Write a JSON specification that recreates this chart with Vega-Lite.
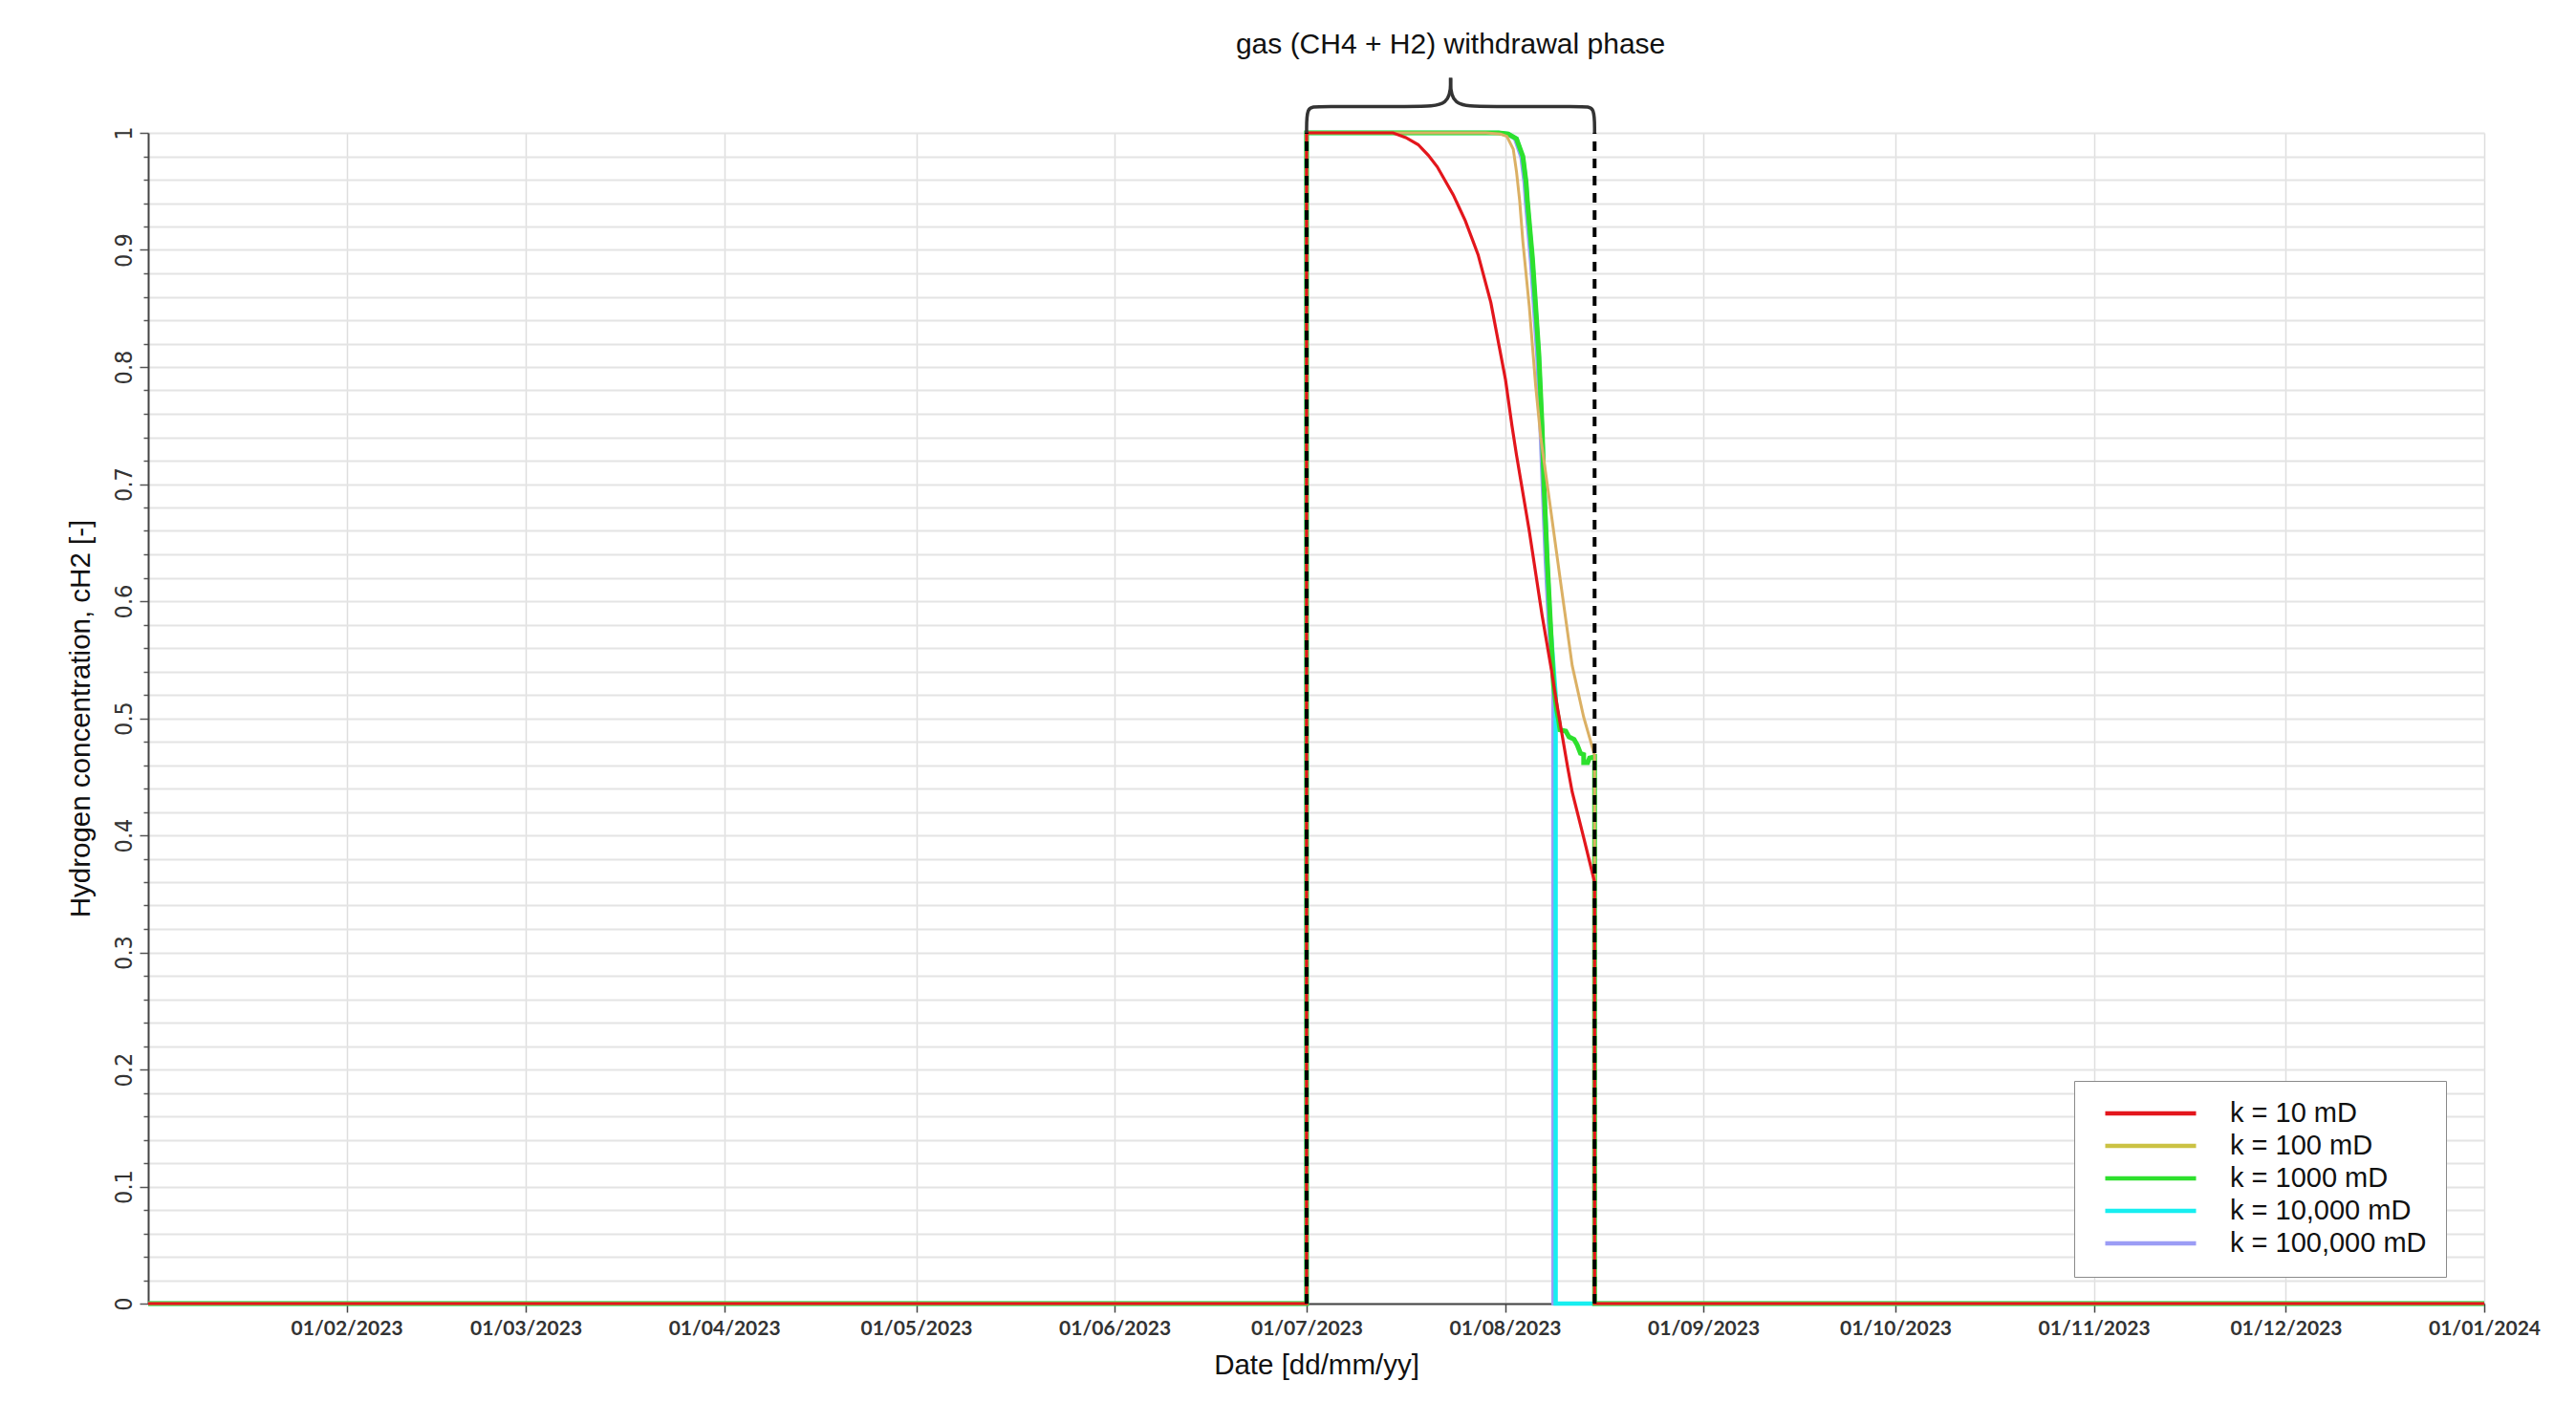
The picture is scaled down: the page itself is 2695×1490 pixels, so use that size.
{
  "$schema": "https://vega.github.io/schema/vega-lite/v6.json",
  "autosize": "none",
  "width": 2444,
  "height": 1225,
  "padding": {"left": 155, "top": 139, "right": 96, "bottom": 126},
  "background": "white",
  "config": {
    "view": {"stroke": null},
    "legend": {
      "symbolType": "stroke",
      "symbolSize": 9025,
      "symbolStrokeWidth": 4.5,
      "clipHeight": 28,
      "labelFontSize": 29,
      "labelFont": "Liberation Sans, Arial, sans-serif",
      "labelColor": "#111111",
      "labelOffset": 33,
      "symbolOffset": 10,
      "rowPadding": 5,
      "padding": 20,
      "strokeColor": "#8a8a8a",
      "fillColor": "#ffffff",
      "labelLimit": 500
    }
  },
  "datasets": {
    "series": [
      {"k": "k = 10 mD", "i": 0, "date": "2023-01-01T00:00:00Z", "y": 0},
      {"k": "k = 10 mD", "i": 1, "date": "2023-07-01T00:00:00Z", "y": 0},
      {"k": "k = 10 mD", "i": 2, "date": "2023-07-01T00:00:00Z", "y": 1},
      {"k": "k = 10 mD", "i": 3, "date": "2023-07-14T12:00:00Z", "y": 1},
      {"k": "k = 10 mD", "i": 4, "date": "2023-07-16T12:00:00Z", "y": 0.996},
      {"k": "k = 10 mD", "i": 5, "date": "2023-07-18T10:00:00Z", "y": 0.99},
      {"k": "k = 10 mD", "i": 6, "date": "2023-07-20T00:00:00Z", "y": 0.981},
      {"k": "k = 10 mD", "i": 7, "date": "2023-07-21T10:00:00Z", "y": 0.971},
      {"k": "k = 10 mD", "i": 8, "date": "2023-07-23T22:00:00Z", "y": 0.947},
      {"k": "k = 10 mD", "i": 9, "date": "2023-07-25T19:00:00Z", "y": 0.925},
      {"k": "k = 10 mD", "i": 10, "date": "2023-07-27T19:00:00Z", "y": 0.896},
      {"k": "k = 10 mD", "i": 11, "date": "2023-07-29T19:00:00Z", "y": 0.855},
      {"k": "k = 10 mD", "i": 12, "date": "2023-08-01T02:00:00Z", "y": 0.789},
      {"k": "k = 10 mD", "i": 13, "date": "2023-08-02T02:00:00Z", "y": 0.75},
      {"k": "k = 10 mD", "i": 14, "date": "2023-08-02T19:00:00Z", "y": 0.725},
      {"k": "k = 10 mD", "i": 15, "date": "2023-08-04T19:00:00Z", "y": 0.66},
      {"k": "k = 10 mD", "i": 16, "date": "2023-08-06T19:00:00Z", "y": 0.588},
      {"k": "k = 10 mD", "i": 17, "date": "2023-08-08T07:00:00Z", "y": 0.54},
      {"k": "k = 10 mD", "i": 18, "date": "2023-08-08T19:00:00Z", "y": 0.522},
      {"k": "k = 10 mD", "i": 19, "date": "2023-08-10T19:00:00Z", "y": 0.458},
      {"k": "k = 10 mD", "i": 20, "date": "2023-08-11T12:00:00Z", "y": 0.437},
      {"k": "k = 10 mD", "i": 21, "date": "2023-08-13T07:00:00Z", "y": 0.398},
      {"k": "k = 10 mD", "i": 22, "date": "2023-08-15T00:00:00Z", "y": 0.36},
      {"k": "k = 10 mD", "i": 23, "date": "2023-08-15T00:00:00Z", "y": 0},
      {"k": "k = 10 mD", "i": 24, "date": "2024-01-01T00:00:00Z", "y": 0},

      {"k": "k = 100 mD", "i": 0, "date": "2023-01-01T00:00:00Z", "y": 0},
      {"k": "k = 100 mD", "i": 1, "date": "2023-07-01T00:00:00Z", "y": 0},
      {"k": "k = 100 mD", "i": 2, "date": "2023-07-01T00:00:00Z", "y": 1},
      {"k": "k = 100 mD", "i": 3, "date": "2023-07-29T00:00:00Z", "y": 1},
      {"k": "k = 100 mD", "i": 4, "date": "2023-07-31T07:00:00Z", "y": 0.999},
      {"k": "k = 100 mD", "i": 5, "date": "2023-08-01T07:00:00Z", "y": 0.997},
      {"k": "k = 100 mD", "i": 6, "date": "2023-08-02T07:00:00Z", "y": 0.986},
      {"k": "k = 100 mD", "i": 7, "date": "2023-08-02T19:00:00Z", "y": 0.967},
      {"k": "k = 100 mD", "i": 8, "date": "2023-08-03T07:00:00Z", "y": 0.942},
      {"k": "k = 100 mD", "i": 9, "date": "2023-08-03T19:00:00Z", "y": 0.907},
      {"k": "k = 100 mD", "i": 10, "date": "2023-08-04T19:00:00Z", "y": 0.852},
      {"k": "k = 100 mD", "i": 11, "date": "2023-08-05T19:00:00Z", "y": 0.784},
      {"k": "k = 100 mD", "i": 12, "date": "2023-08-06T14:00:00Z", "y": 0.74},
      {"k": "k = 100 mD", "i": 13, "date": "2023-08-07T19:00:00Z", "y": 0.692},
      {"k": "k = 100 mD", "i": 14, "date": "2023-08-09T19:00:00Z", "y": 0.612},
      {"k": "k = 100 mD", "i": 15, "date": "2023-08-11T12:00:00Z", "y": 0.545},
      {"k": "k = 100 mD", "i": 16, "date": "2023-08-13T07:00:00Z", "y": 0.501},
      {"k": "k = 100 mD", "i": 17, "date": "2023-08-14T07:00:00Z", "y": 0.482},
      {"k": "k = 100 mD", "i": 18, "date": "2023-08-15T00:00:00Z", "y": 0.468},
      {"k": "k = 100 mD", "i": 19, "date": "2023-08-15T00:00:00Z", "y": 0},
      {"k": "k = 100 mD", "i": 20, "date": "2024-01-01T00:00:00Z", "y": 0},

      {"k": "k = 1000 mD", "i": 0, "date": "2023-01-01T00:00:00Z", "y": 0},
      {"k": "k = 1000 mD", "i": 1, "date": "2023-07-01T00:00:00Z", "y": 0},
      {"k": "k = 1000 mD", "i": 2, "date": "2023-07-01T00:00:00Z", "y": 1},
      {"k": "k = 1000 mD", "i": 3, "date": "2023-07-31T00:00:00Z", "y": 1},
      {"k": "k = 1000 mD", "i": 4, "date": "2023-08-01T12:00:00Z", "y": 0.999},
      {"k": "k = 1000 mD", "i": 5, "date": "2023-08-02T19:00:00Z", "y": 0.995},
      {"k": "k = 1000 mD", "i": 6, "date": "2023-08-03T19:00:00Z", "y": 0.98},
      {"k": "k = 1000 mD", "i": 7, "date": "2023-08-04T07:00:00Z", "y": 0.958},
      {"k": "k = 1000 mD", "i": 8, "date": "2023-08-04T12:00:00Z", "y": 0.942},
      {"k": "k = 1000 mD", "i": 9, "date": "2023-08-05T07:00:00Z", "y": 0.893},
      {"k": "k = 1000 mD", "i": 10, "date": "2023-08-06T07:00:00Z", "y": 0.811},
      {"k": "k = 1000 mD", "i": 11, "date": "2023-08-06T19:00:00Z", "y": 0.75},
      {"k": "k = 1000 mD", "i": 12, "date": "2023-08-07T02:00:00Z", "y": 0.7},
      {"k": "k = 1000 mD", "i": 13, "date": "2023-08-07T14:00:00Z", "y": 0.637},
      {"k": "k = 1000 mD", "i": 14, "date": "2023-08-08T02:00:00Z", "y": 0.583},
      {"k": "k = 1000 mD", "i": 15, "date": "2023-08-08T14:00:00Z", "y": 0.528},
      {"k": "k = 1000 mD", "i": 16, "date": "2023-08-09T02:00:00Z", "y": 0.507},
      {"k": "k = 1000 mD", "i": 17, "date": "2023-08-09T10:00:00Z", "y": 0.497},
      {"k": "k = 1000 mD", "i": 18, "date": "2023-08-09T14:00:00Z", "y": 0.49},
      {"k": "k = 1000 mD", "i": 19, "date": "2023-08-10T12:00:00Z", "y": 0.489},
      {"k": "k = 1000 mD", "i": 20, "date": "2023-08-11T00:00:00Z", "y": 0.484},
      {"k": "k = 1000 mD", "i": 21, "date": "2023-08-11T19:00:00Z", "y": 0.482},
      {"k": "k = 1000 mD", "i": 22, "date": "2023-08-12T07:00:00Z", "y": 0.477},
      {"k": "k = 1000 mD", "i": 23, "date": "2023-08-12T19:00:00Z", "y": 0.47},
      {"k": "k = 1000 mD", "i": 24, "date": "2023-08-13T07:00:00Z", "y": 0.469},
      {"k": "k = 1000 mD", "i": 25, "date": "2023-08-13T07:00:00Z", "y": 0.462},
      {"k": "k = 1000 mD", "i": 26, "date": "2023-08-13T22:00:00Z", "y": 0.462},
      {"k": "k = 1000 mD", "i": 27, "date": "2023-08-14T05:00:00Z", "y": 0.466},
      {"k": "k = 1000 mD", "i": 28, "date": "2023-08-15T00:00:00Z", "y": 0.467},
      {"k": "k = 1000 mD", "i": 29, "date": "2023-08-15T00:00:00Z", "y": 0},
      {"k": "k = 1000 mD", "i": 30, "date": "2024-01-01T00:00:00Z", "y": 0},

      {"k": "k = 10,000 mD", "i": 0, "date": "2023-01-01T00:00:00Z", "y": 0},
      {"k": "k = 10,000 mD", "i": 1, "date": "2023-07-01T00:00:00Z", "y": 0},
      {"k": "k = 10,000 mD", "i": 2, "date": "2023-07-01T00:00:00Z", "y": 1},
      {"k": "k = 10,000 mD", "i": 3, "date": "2023-07-31T00:00:00Z", "y": 1},
      {"k": "k = 10,000 mD", "i": 4, "date": "2023-08-01T12:00:00Z", "y": 0.999},
      {"k": "k = 10,000 mD", "i": 5, "date": "2023-08-02T19:00:00Z", "y": 0.995},
      {"k": "k = 10,000 mD", "i": 6, "date": "2023-08-03T19:00:00Z", "y": 0.979},
      {"k": "k = 10,000 mD", "i": 7, "date": "2023-08-04T07:00:00Z", "y": 0.957},
      {"k": "k = 10,000 mD", "i": 8, "date": "2023-08-04T12:00:00Z", "y": 0.94},
      {"k": "k = 10,000 mD", "i": 9, "date": "2023-08-05T07:00:00Z", "y": 0.89},
      {"k": "k = 10,000 mD", "i": 10, "date": "2023-08-06T07:00:00Z", "y": 0.808},
      {"k": "k = 10,000 mD", "i": 11, "date": "2023-08-06T19:00:00Z", "y": 0.745},
      {"k": "k = 10,000 mD", "i": 12, "date": "2023-08-07T14:00:00Z", "y": 0.635},
      {"k": "k = 10,000 mD", "i": 13, "date": "2023-08-08T02:00:00Z", "y": 0.58},
      {"k": "k = 10,000 mD", "i": 14, "date": "2023-08-08T22:00:00Z", "y": 0.52},
      {"k": "k = 10,000 mD", "i": 15, "date": "2023-08-08T22:00:00Z", "y": 0},
      {"k": "k = 10,000 mD", "i": 16, "date": "2024-01-01T00:00:00Z", "y": 0},

      {"k": "k = 100,000 mD", "i": 0, "date": "2023-01-01T00:00:00Z", "y": 0},
      {"k": "k = 100,000 mD", "i": 1, "date": "2023-07-01T00:00:00Z", "y": 0},
      {"k": "k = 100,000 mD", "i": 2, "date": "2023-07-01T00:00:00Z", "y": 1},
      {"k": "k = 100,000 mD", "i": 3, "date": "2023-07-30T19:00:00Z", "y": 1},
      {"k": "k = 100,000 mD", "i": 4, "date": "2023-08-01T05:00:00Z", "y": 0.999},
      {"k": "k = 100,000 mD", "i": 5, "date": "2023-08-02T12:00:00Z", "y": 0.995},
      {"k": "k = 100,000 mD", "i": 6, "date": "2023-08-03T12:00:00Z", "y": 0.979},
      {"k": "k = 100,000 mD", "i": 7, "date": "2023-08-04T00:00:00Z", "y": 0.957},
      {"k": "k = 100,000 mD", "i": 8, "date": "2023-08-04T05:00:00Z", "y": 0.94},
      {"k": "k = 100,000 mD", "i": 9, "date": "2023-08-05T00:00:00Z", "y": 0.89},
      {"k": "k = 100,000 mD", "i": 10, "date": "2023-08-06T00:00:00Z", "y": 0.808},
      {"k": "k = 100,000 mD", "i": 11, "date": "2023-08-06T12:00:00Z", "y": 0.745},
      {"k": "k = 100,000 mD", "i": 12, "date": "2023-08-07T07:00:00Z", "y": 0.635},
      {"k": "k = 100,000 mD", "i": 13, "date": "2023-08-07T19:00:00Z", "y": 0.58},
      {"k": "k = 100,000 mD", "i": 14, "date": "2023-08-08T12:00:00Z", "y": 0.53},
      {"k": "k = 100,000 mD", "i": 15, "date": "2023-08-08T12:00:00Z", "y": 0},
      {"k": "k = 100,000 mD", "i": 16, "date": "2024-01-01T00:00:00Z", "y": 0}
    ],
    "phase": [
      {"date": "2023-07-01T00:00:00Z", "y": 0, "top": 1},
      {"date": "2023-08-15T00:00:00Z", "y": 0, "top": 1}
    ],
    "brace": [
      {"half": "left", "i": 0, "date": "2023-07-01T00:00:00Z", "y": 1.0},
      {"half": "left", "i": 1, "date": "2023-07-01T00:00:00Z", "y": 1.0225},
      {"half": "left", "i": 2, "date": "2023-07-02T12:00:00Z", "y": 1.0225},
      {"half": "left", "i": 3, "date": "2023-07-18T00:00:00Z", "y": 1.0225},
      {"half": "left", "i": 4, "date": "2023-07-23T12:00:00Z", "y": 1.0225},
      {"half": "left", "i": 5, "date": "2023-07-23T12:00:00Z", "y": 1.047},
      {"half": "right", "i": 0, "date": "2023-08-15T00:00:00Z", "y": 1.0},
      {"half": "right", "i": 1, "date": "2023-08-15T00:00:00Z", "y": 1.0225},
      {"half": "right", "i": 2, "date": "2023-08-13T12:00:00Z", "y": 1.0225},
      {"half": "right", "i": 3, "date": "2023-07-29T00:00:00Z", "y": 1.0225},
      {"half": "right", "i": 4, "date": "2023-07-23T12:00:00Z", "y": 1.0225},
      {"half": "right", "i": 5, "date": "2023-07-23T12:00:00Z", "y": 1.047}
    ],
    "note": [
      {"date": "2023-07-23T12:00:00Z", "y": 1.075, "label": "gas (CH4 + H2) withdrawal phase"}
    ]
  },
  "encoding": {
    "x": {
      "field": "date",
      "type": "temporal",
      "title": "Date [dd/mm/yy]",
      "scale": {
        "type": "utc",
        "nice": false,
        "domain": [
          {"year": 2023, "month": 1, "date": 1, "utc": true},
          {"year": 2024, "month": 1, "date": 1, "utc": true}
        ]
      },
      "axis": {
        "values": [
          {"year": 2023, "month": 2, "date": 1, "utc": true},
          {"year": 2023, "month": 3, "date": 1, "utc": true},
          {"year": 2023, "month": 4, "date": 1, "utc": true},
          {"year": 2023, "month": 5, "date": 1, "utc": true},
          {"year": 2023, "month": 6, "date": 1, "utc": true},
          {"year": 2023, "month": 7, "date": 1, "utc": true},
          {"year": 2023, "month": 8, "date": 1, "utc": true},
          {"year": 2023, "month": 9, "date": 1, "utc": true},
          {"year": 2023, "month": 10, "date": 1, "utc": true},
          {"year": 2023, "month": 11, "date": 1, "utc": true},
          {"year": 2023, "month": 12, "date": 1, "utc": true},
          {"year": 2024, "month": 1, "date": 1, "utc": true}
        ],
        "labelExpr": "utcFormat(datum.value, '%d/%m/%Y')",
        "labelFont": "Lato, Liberation Sans, sans-serif",
        "labelFontWeight": "bold",
        "labelFontSize": 21,
        "labelColor": "#333333",
        "labelPadding": 6,
        "labelOverlap": false,
        "labelFlush": false,
        "tickSize": 9,
        "tickColor": "#444444",
        "tickWidth": 1.5,
        "domainColor": "#444444",
        "domainWidth": 2,
        "grid": true,
        "gridColor": "#dedede",
        "gridWidth": 1.5,
        "titleFont": "Liberation Sans, Arial, sans-serif",
        "titleFontSize": 29.5,
        "titleFontWeight": "normal",
        "titleColor": "#111111",
        "titlePadding": 14
      }
    },
    "y": {
      "field": "y",
      "type": "quantitative",
      "title": "Hydrogen concentration, cH2 [-]",
      "scale": {"domain": [0, 1], "nice": false, "zero": false},
      "axis": {
        "values": [0, 0.02, 0.04, 0.06, 0.08, 0.1, 0.12, 0.14, 0.16, 0.18, 0.2, 0.22, 0.24, 0.26, 0.28, 0.3, 0.32, 0.34, 0.36, 0.38, 0.4, 0.42, 0.44, 0.46, 0.48, 0.5, 0.52, 0.54, 0.56, 0.58, 0.6, 0.62, 0.64, 0.66, 0.68, 0.7, 0.72, 0.74, 0.76, 0.78, 0.8, 0.82, 0.84, 0.86, 0.88, 0.9, 0.92, 0.94, 0.96, 0.98, 1],
        "labelExpr": "abs(datum.value * 10 - round(datum.value * 10)) < 0.000001 ? format(datum.value, '~g') : ''",
        "labelAngle": -90,
        "labelAlign": "center",
        "labelBaseline": "bottom",
        "labelFont": "Liberation Sans Narrow, DejaVu Sans Condensed, sans-serif",
        "labelFontSize": 25,
        "labelColor": "#333333",
        "labelPadding": 4,
        "labelOverlap": false,
        "labelFlush": false,
        "tickSize": {"condition": {"test": "abs(datum.value * 10 - round(datum.value * 10)) < 0.000001", "value": 9}, "value": 5},
        "tickColor": "#555555",
        "tickWidth": 1.5,
        "domainColor": "#444444",
        "domainWidth": 2,
        "grid": true,
        "gridColor": "#e4e4e4",
        "gridWidth": 2,
        "titleFont": "Liberation Sans, Arial, sans-serif",
        "titleFontSize": 29.5,
        "titleFontWeight": "normal",
        "titleColor": "#111111",
        "titlePadding": 18
      }
    }
  },
  "layer": [
    {
      "data": {"name": "series"},
      "transform": [{"filter": "datum.k == 'k = 100,000 mD'"}],
      "mark": {"type": "line", "strokeWidth": 3.5},
      "encoding": {
        "order": {"field": "i", "type": "quantitative"},
        "color": {
          "field": "k", "type": "nominal",
          "scale": {
            "domain": ["k = 10 mD", "k = 100 mD", "k = 1000 mD", "k = 10,000 mD", "k = 100,000 mD"],
            "range": ["#e3161c", "#cbc244", "#2de02d", "#17eef0", "#9b9cf5"]
          },
          "legend": {"orient": "none", "legendX": 2015, "legendY": 992, "title": null}
        }
      }
    },
    {
      "data": {"name": "series"},
      "transform": [{"filter": "datum.k == 'k = 10,000 mD'"}],
      "mark": {"type": "line", "strokeWidth": 4.5},
      "encoding": {
        "order": {"field": "i", "type": "quantitative"},
        "color": {
          "field": "k", "type": "nominal",
          "scale": {
            "domain": ["k = 10 mD", "k = 100 mD", "k = 1000 mD", "k = 10,000 mD", "k = 100,000 mD"],
            "range": ["#e3161c", "#cbc244", "#2de02d", "#17eef0", "#9b9cf5"]
          },
          "legend": {"orient": "none", "legendX": 2015, "legendY": 992, "title": null}
        }
      }
    },
    {
      "data": {"name": "series"},
      "transform": [{"filter": "datum.k == 'k = 1000 mD'"}],
      "mark": {"type": "line", "strokeWidth": 5},
      "encoding": {
        "order": {"field": "i", "type": "quantitative"},
        "color": {
          "field": "k", "type": "nominal",
          "scale": {
            "domain": ["k = 10 mD", "k = 100 mD", "k = 1000 mD", "k = 10,000 mD", "k = 100,000 mD"],
            "range": ["#e3161c", "#cbc244", "#2de02d", "#17eef0", "#9b9cf5"]
          },
          "legend": {"orient": "none", "legendX": 2015, "legendY": 992, "title": null}
        }
      }
    },
    {
      "data": {"name": "series"},
      "transform": [{"filter": "datum.k == 'k = 100 mD'"}],
      "mark": {"type": "line", "strokeWidth": 3, "color": "#dbb064"},
      "encoding": {
        "order": {"field": "i", "type": "quantitative"}
      }
    },
    {
      "data": {"name": "series"},
      "transform": [{"filter": "datum.k == 'k = 10 mD'"}],
      "mark": {"type": "line", "strokeWidth": 3.2},
      "encoding": {
        "order": {"field": "i", "type": "quantitative"},
        "color": {
          "field": "k", "type": "nominal",
          "scale": {
            "domain": ["k = 10 mD", "k = 100 mD", "k = 1000 mD", "k = 10,000 mD", "k = 100,000 mD"],
            "range": ["#e3161c", "#cbc244", "#2de02d", "#17eef0", "#9b9cf5"]
          },
          "legend": {"orient": "none", "legendX": 2015, "legendY": 992, "title": null}
        }
      }
    },
    {
      "data": {"name": "phase"},
      "mark": {"type": "rule", "color": "#000000", "strokeWidth": 4, "strokeDash": [10, 8]},
      "encoding": {
        "y2": {"field": "top"}
      }
    },
    {
      "data": {"name": "brace"},
      "mark": {"type": "line", "color": "#333333", "strokeWidth": 3.5, "interpolate": "basis"},
      "encoding": {
        "detail": {"field": "half", "type": "nominal"},
        "order": {"field": "i", "type": "quantitative"}
      }
    },
    {
      "data": {"name": "note"},
      "mark": {"type": "text", "font": "Liberation Sans, Arial, sans-serif", "fontSize": 30, "color": "#111111", "align": "center", "baseline": "middle"},
      "encoding": {
        "text": {"field": "label", "type": "nominal"}
      }
    }
  ]
}
